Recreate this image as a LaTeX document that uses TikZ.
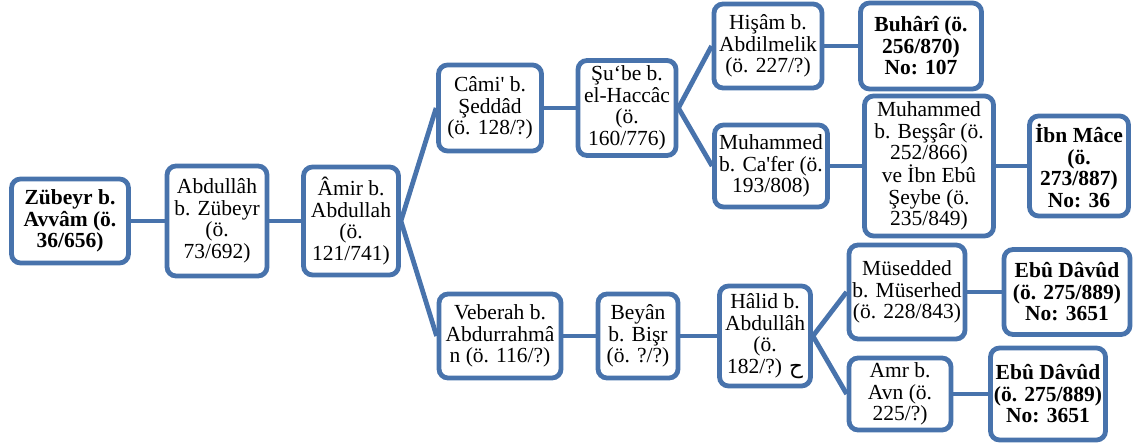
\documentclass[tikz,border=0pt]{standalone}
\usepackage{fontspec}
\setmainfont{Liberation Serif}
\newfontfamily\arabicfont[Script=Arabic]{DejaVu Sans}
\definecolor{boxblue}{RGB}{72,115,172}
\tikzset{
  pbox/.style={draw=boxblue, line width=4.8pt, rounded corners=9pt, fill=white,
    align=center, inner sep=0pt, font=\fontsize{21.5}{21.5}\selectfont},
  bbox/.style={pbox, font=\fontsize{21.5}{21.5}\selectfont\bfseries},
  link/.style={draw=boxblue, line width=4.8pt}
}
\begin{document}
\begin{tikzpicture}[x=1pt,y=-1pt]
\useasboundingbox (0,0) rectangle (1134,443);
\node[bbox, minimum width=117pt, minimum height=84pt] (zub) at (70,221) {Zübeyr b.\\Avvâm (ö.\\36/656)};
\node[pbox, minimum width=100pt, minimum height=110pt] (abd) at (217,221) {Abdullâh\\b. Zübeyr\\(ö.\\73/692)};
\node[pbox, minimum width=95pt, minimum height=108pt] (amir) at (351,221) {Âmir b.\\Abdullah\\(ö.\\121/741)};
\node[pbox, minimum width=103pt, minimum height=86pt] (cami) at (490,108) {Câmi\textquotesingle{} b.\\Şeddâd\\(ö. 128/?)};
\node[pbox, minimum width=98pt, minimum height=95pt] (sube) at (627,108) {Şu‘be b.\\el-Haccâc\\(ö.\\160/776)};
\node[pbox, minimum width=108pt, minimum height=84pt] (hisam) at (768,46) {Hişâm b.\\Abdilmelik\\(ö. 227/?)};
\node[bbox, minimum width=121pt, minimum height=86pt] (buhari) at (921,46) {Buhârî (ö.\\256/870)\\No: 107};
\node[pbox, minimum width=113pt, minimum height=82pt] (mca) at (771,166) {Muhammed\\b. Ca\textquotesingle fer (ö.\\193/808)};
\node[pbox, minimum width=129pt, minimum height=140pt] (mbes) at (929,166) {Muhammed\\b. Beşşâr (ö.\\252/866)\\ve İbn Ebû\\Şeybe (ö.\\235/849)};
\node[bbox, minimum width=99pt, minimum height=100pt] (ibn) at (1079,166) {İbn Mâce\\(ö.\\273/887)\\No: 36};
\node[pbox, minimum width=122pt, minimum height=84pt] (veb) at (500,336) {Veberah b.\\Abdurrahmâ\\n (ö. 116/?)};
\node[pbox, minimum width=80pt, minimum height=84pt] (beyan) at (638,336) {Beyân\\b. Bişr\\(ö. ?/?)};
\node[pbox, minimum width=91pt, minimum height=100pt] (halid) at (765,336) {Hâlid b.\\Abdullâh\\(ö.\\182/?) {\arabicfont ح}};
\node[pbox, minimum width=116pt, minimum height=94pt] (mus) at (907,292) {Müsedded\\b. Müserhed\\(ö. 228/843)};
\node[bbox, minimum width=126pt, minimum height=85pt] (ebu1) at (1067,292) {Ebû Dâvûd\\(ö. 275/889)\\No: 3651};
\node[pbox, minimum width=102pt, minimum height=72pt] (amr) at (900,394) {Amr b.\\Avn (ö.\\225/?)};
\node[bbox, minimum width=115pt, minimum height=92pt] (ebu2) at (1048,394) {Ebû Dâvûd\\(ö. 275/889)\\No: 3651};
\draw[link] (zub.east) -- (abd.west);
\draw[link] (abd.east) -- (amir.west);
\draw[link] (amir.east) -- (cami.west);
\draw[link] (amir.east) -- (veb.west);
\draw[link] (cami.east) -- (sube.west);
\draw[link] (sube.east) -- (hisam.west);
\draw[link] (sube.east) -- (mca.west);
\draw[link] (hisam.east) -- (buhari.west);
\draw[link] (mca.east) -- (mbes.west);
\draw[link] (mbes.east) -- (ibn.west);
\draw[link] (veb.east) -- (beyan.west);
\draw[link] (beyan.east) -- (halid.west);
\draw[link] (halid.east) -- (mus.west);
\draw[link] (halid.east) -- (amr.west);
\draw[link] (mus.east) -- (ebu1.west);
\draw[link] (amr.east) -- (ebu2.west);
\end{tikzpicture}
\end{document}
